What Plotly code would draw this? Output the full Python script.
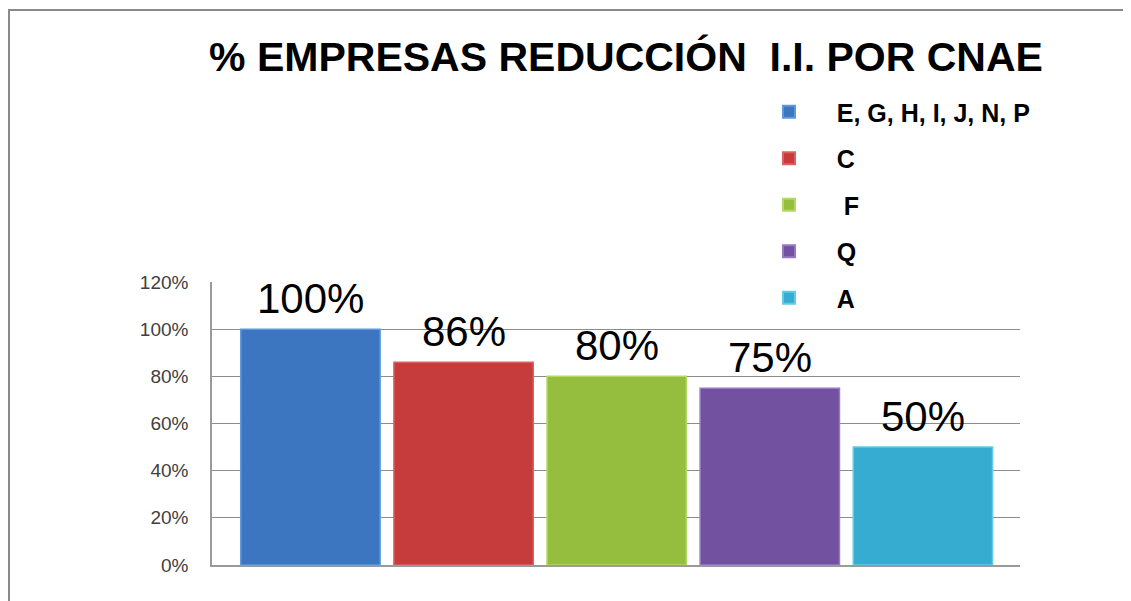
import plotly.graph_objects as go

names = ["E, G, H, I, J, N, P", "C", " F", "Q", "A"]
values = [1.00, 0.86, 0.80, 0.75, 0.50]
labels = ["100%", "86%", "80%", "75%", "50%"]
colors = ["#3c76c0", "#c63b3b", "#96be3e", "#7252a0", "#36add0"]
edge = ["#5f97dc", "#e06060", "#b4d866", "#9878c4", "#60cce8"]
y_ticks = [0, 0.2, 0.4, 0.6, 0.8, 1.0, 1.2]
y_ticktext = ["0%", "20%", "40%", "60%", "80%", "100%", "120%"]

# page body has an 8px margin: work in figure coordinates = screen - 8
OFF = 8
W, H = 1131 - OFF, 601 - OFF
L, R, T, B = 212 - OFF, 1020 - OFF, 282 - OFF, 565 - OFF
FONT = "Liberation Sans, Arial, sans-serif"

fig = go.Figure()
for i, (n, v, c, e) in enumerate(zip(names, values, colors, edge)):
    fig.add_trace(go.Bar(
        x=[i], y=[v], name="\u00a0\u00a0\u00a0\u00a0" + n,
        marker=dict(color=c, line=dict(color=e, width=1.5)),
        width=0.91, legendgroup=str(i),
    ))

annotations = [
    dict(x=i, y=v, xref="x", yref="y", text=lab, showarrow=False,
         yanchor="bottom", yshift=5,
         font=dict(family=FONT, size=42, color="#000000"))
    for i, (v, lab) in enumerate(zip(values, labels))
]

def px_x(p):
    return (p - OFF - L) / (R - L)

def px_y(p):
    return (B - (p - OFF)) / (B - T)

fig.update_layout(
    width=W, height=H,
    margin=dict(l=L, r=W - R, t=T, b=H - B, pad=0),
    paper_bgcolor="white", plot_bgcolor="white",
    barmode="overlay",
    title=dict(text="% EMPRESAS REDUCCIÓN\u00a0 I.I. POR CNAE",
               font=dict(family=FONT, size=41, color="#000000", weight="bold"),
               x=px_x(626), xref="paper", xanchor="center",
               y=1 - (57 - OFF) / H, yref="container", yanchor="middle"),
    xaxis=dict(range=[-0.643, 4.634], showticklabels=False, showgrid=False, zeroline=False,
               showline=True, linecolor="#9a9a9a", linewidth=1.5, ticks="", fixedrange=True),
    yaxis=dict(range=[0, 1.2], tickvals=y_ticks, ticktext=y_ticktext,
               showgrid=True, gridcolor="#8c8c8c", gridwidth=1, zeroline=False,
               showline=True, linecolor="#9a9a9a", linewidth=1.5,
               tickfont=dict(family=FONT, size=19, color="#404040"),
               ticks="", ticklabelstandoff=18),
    legend=dict(x=px_x(769), xanchor="left", y=px_y(89), yanchor="top",
                font=dict(family=FONT, size=25, color="#000000", weight="bold"),
                bgcolor="rgba(0,0,0,0)", traceorder="grouped", tracegroupgap=11,
                itemsizing="constant"),
    showlegend=True,
    annotations=annotations,
    shapes=[
        dict(type="line", xref="paper", yref="paper", x0=px_x(8), x1=px_x(1140), y0=px_y(10), y1=px_y(10),
             line=dict(color="#8a8a8a", width=2)),
        dict(type="line", xref="paper", yref="paper", x0=px_x(9), x1=px_x(9), y0=px_y(10), y1=px_y(610),
             line=dict(color="#8a8a8a", width=2)),
    ],
)

fig.write_html("out.html")
